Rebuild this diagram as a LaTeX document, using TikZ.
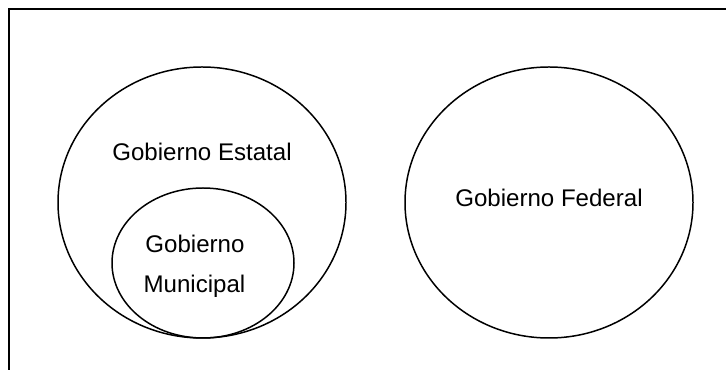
\documentclass[tikz,border=0pt]{standalone}
\usepackage{fontspec}
\setmainfont{Liberation Sans}
\usepackage{tikz}

\begin{document}
\begin{tikzpicture}[font=\fontsize{13.7}{16}\selectfont]
      \useasboundingbox (0,0) rectangle (14.52,-7.4);
      \draw[line width=1.2pt] (14.6,-0.18) -- (0.18,-0.18) -- (0.18,-7.5);
      \draw[line width=0.85pt] (4.04,-4.05) ellipse (2.88 and 2.71);
      \draw[line width=0.85pt] (4.06,-5.26) ellipse (1.82 and 1.5);
      \draw[line width=0.85pt] (10.98,-4.05) ellipse (2.88 and 2.71);
      \node[anchor=base] (estatal) at (4.04,-3.22) {Gobierno Estatal};
      \node[anchor=base] (gobierno) at (3.9,-5.06) {Gobierno};
      \node[anchor=base] (municipal) at (3.89,-5.86) {Municipal};
      \node[anchor=base] (federal) at (10.98,-4.14) {Gobierno Federal};
    \end{tikzpicture}
\end{document}
